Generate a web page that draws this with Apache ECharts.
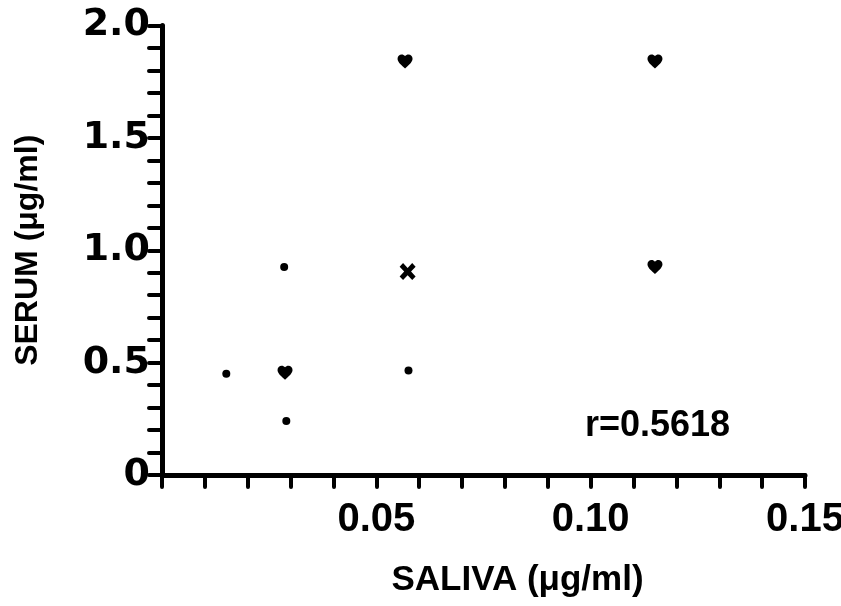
<!DOCTYPE html>
<html>
<head>
<meta charset="utf-8">
<script src="https://cdn.jsdelivr.net/npm/echarts@6/dist/echarts.min.js"></script>
<style>html,body{margin:0;padding:0;background:#fff}#c{width:841px;height:606px}</style>
</head>
<body>
<div id="c"></div>
<script>
// Data
const dotSaliva   = [0.015, 0.0285, 0.029, 0.0575];
const dotSerum    = [0.45, 0.925, 0.24, 0.465];
const heartSaliva = [0.0287, 0.0567, 0.115, 0.115];
const heartSerum  = [0.455, 1.84, 1.84, 0.925];
const crossSaliva = [0.0573];
const crossSerum  = [0.905];
const yTickLabels = {0: '0', 0.5: '0.5', 1: '1.0', 1.5: '1.5', 2: '2.0'};
const xTickLabels = {0.05: '0.05', 0.1: '0.10', 0.15: '0.15'};
const corrText = 'r=0.5618';

const pair = (xs, ys) => xs.map((x, i) => [x, ys[i]]);
const heartPath = 'path://M12 21.35l-1.45-1.32C5.4 15.36 2 12.28 2 8.5 2 5.42 4.42 3 7.5 3c1.74 0 3.41.81 4.5 2.09C13.09 3.81 14.76 3 16.5 3 19.58 3 22 5.42 22 8.5c0 3.78-3.4 6.86-8.55 11.54L12 21.35z';
const crossPath = 'path://M0 3 L3 0 L7 4 L11 0 L14 3 L10 7 L14 11 L11 14 L7 10 L3 14 L0 11 L4 7 Z';

const chart = echarts.init(document.getElementById('c'));
const axisLine = {show: true, lineStyle: {color: '#000', width: 5, cap: 'round'}};
const tickStyle = {color: '#000', width: 4, cap: 'round'};
chart.setOption({
  animation: false,
  backgroundColor: '#fff',
  grid: {left: 162, top: 25.5, right: 36, bottom: 131, containLabel: false, outerBoundsMode: 'none'},
  xAxis: {
    type: 'value', min: 0, max: 0.15, interval: 0.05,
    name: 'SALIVA (μg/ml)', nameLocation: 'middle', nameGap: 88,
    nameTextStyle: {fontFamily: 'Liberation Sans', fontWeight: 'bold', fontSize: 35, color: '#000', padding: [0, 0, 0, 68]},
    axisLine: axisLine,
    axisTick: {show: true, inside: false, length: 12, lineStyle: tickStyle},
    minorTick: {show: true, splitNumber: 5, length: 12, lineStyle: tickStyle},
    splitLine: {show: false}, minorSplitLine: {show: false},
    axisLabel: {
      margin: 25, color: '#000', fontFamily: 'Liberation Sans', fontWeight: 'bold', fontSize: 40,
      formatter: v => { for (const k in xTickLabels) { if (Math.abs(v - k) < 1e-9) return xTickLabels[k]; } return ''; }
    }
  },
  yAxis: {
    type: 'value', min: 0, max: 2, interval: 0.5,
    name: 'SERUM (μg/ml)', nameLocation: 'middle', nameGap: 118,
    nameTextStyle: {fontFamily: 'Liberation Sans', fontWeight: 'bold', fontSize: 32, color: '#000'},
    axisLine: axisLine,
    axisTick: {show: true, inside: false, length: 13, lineStyle: tickStyle},
    minorTick: {show: true, splitNumber: 5, length: 13, lineStyle: tickStyle},
    splitLine: {show: false}, minorSplitLine: {show: false},
    axisLabel: {
      margin: 12, color: '#000', fontFamily: 'DejaVu Sans', fontWeight: 'bold', fontSize: 38,
      formatter: v => { for (const k in yTickLabels) { if (Math.abs(v - k) < 1e-9) return yTickLabels[k]; } return ''; }
    }
  },
  series: [
    {type: 'scatter', data: pair(dotSaliva, dotSerum), symbol: 'circle', symbolSize: 8, itemStyle: {color: '#000', opacity: 1}},
    {type: 'scatter', data: pair(heartSaliva, heartSerum), symbol: heartPath, symbolSize: [15, 14], itemStyle: {color: '#000', opacity: 1}},
    {type: 'scatter', data: pair(crossSaliva, crossSerum), symbol: crossPath, symbolSize: [16, 17], itemStyle: {color: '#000', opacity: 1}}
  ],
  graphic: [
    {type: 'text', left: 585, top: 408, style: {text: corrText, fill: '#000', font: 'bold 36px "Liberation Sans"'}}
  ]
});
</script>
</body>
</html>
